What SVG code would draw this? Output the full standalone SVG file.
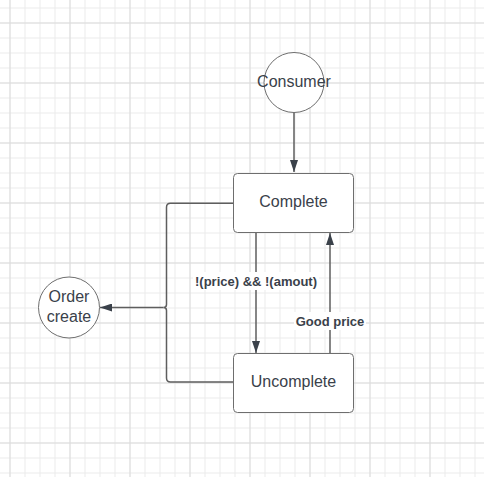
<svg xmlns="http://www.w3.org/2000/svg" width="484" height="477" viewBox="0 0 484 477">
<defs>
<pattern id="minor" x="9.5" y="7.5" width="15" height="15" patternUnits="userSpaceOnUse">
<path d="M0.5 0V15M0 0.5H15" stroke="#ebebeb" stroke-width="1" fill="none"/>
</pattern>
<pattern id="major" x="9.5" y="22.5" width="60" height="60" patternUnits="userSpaceOnUse">
<path d="M0.5 0V60M0 0.5H60" stroke="#dcdcdc" stroke-width="1" fill="none"/>
</pattern>
<marker id="arr" viewBox="0 0 12 8" refX="12" refY="4" markerWidth="12" markerHeight="8" markerUnits="userSpaceOnUse" orient="auto">
<path d="M0 0L12 4L0 8Z" fill="#3a414a"/>
</marker>
</defs>
<style>
.node{fill:#ffffff;stroke:#6e6e6e;stroke-width:1}
.lbl{font-family:"Liberation Sans",Arial,sans-serif;font-size:16px;fill:#3a414a;text-anchor:middle}
.edge{font-family:"Liberation Sans",Arial,sans-serif;font-size:13px;font-weight:bold;fill:#3a414a;text-anchor:middle}
.ln{fill:none;stroke:#5e5e5e;stroke-width:1.5}
</style>
<rect width="484" height="477" fill="#ffffff"/>
<rect width="484" height="477" fill="url(#minor)"/>
<rect width="484" height="477" fill="url(#major)"/>
<g id="connectors">
<path class="ln" d="M294 112V172" marker-end="url(#arr)"/>
<path class="ln" d="M256 233V353" marker-end="url(#arr)"/>
<path class="ln" d="M330 353V233" marker-end="url(#arr)"/>
<path class="ln" d="M233.5 203.3H170.5Q166.5 203.3 166.5 207.3V304.5Q166.5 307.5 163.5 307.5Q166.5 307.5 166.5 310.5V378Q166.5 382 170.5 382H233.5"/>
<path class="ln" d="M163.5 307.5H100" marker-end="url(#arr)"/>
<rect x="193" y="272" width="126" height="18" fill="#ffffff"/>
<text class="edge" x="256" y="286">!(price) &amp;&amp; !(amout)</text>
<rect x="294" y="312" width="72" height="18" fill="#ffffff"/>
<text class="edge" x="330" y="326">Good price</text>
</g>
<g id="consumer">
<circle class="node" cx="294" cy="82.5" r="30"/>
<text class="lbl" x="294" y="86.5">Consumer</text>
</g>
<g id="complete">
<rect class="node" x="233.5" y="173.5" width="120" height="59" rx="4"/>
<text class="lbl" x="293.5" y="206.5">Complete</text>
</g>
<g id="uncomplete">
<rect class="node" x="233.5" y="353.5" width="120" height="59" rx="4"/>
<text class="lbl" x="293.5" y="386.5">Uncomplete</text>
</g>
<g id="order-create">
<circle class="node" cx="69" cy="307.5" r="30.5"/>
<text class="lbl" x="69" y="301.5">Order</text>
<text class="lbl" x="69" y="321.5">create</text>
</g>
</svg>
